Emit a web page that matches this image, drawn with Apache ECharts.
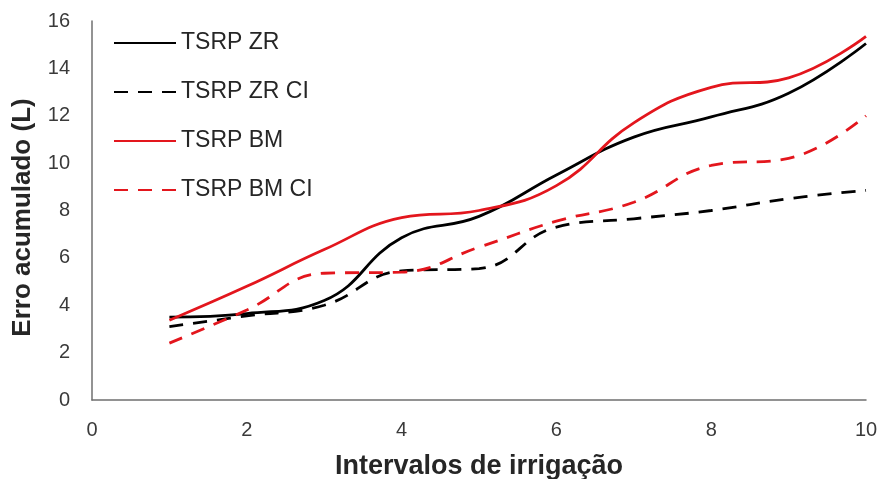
<!DOCTYPE html>
<html><head><meta charset="utf-8">
<script src="https://cdn.jsdelivr.net/npm/echarts@6/dist/echarts.min.js"></script>
<style>html,body{margin:0;padding:0;background:#fff}#c{width:881px;height:479px}</style>
</head><body><div id="c"></div>
<script>
var xValues = [1, 2, 3, 4, 5, 6, 7, 8, 9, 10];
var zr   = [3.5, 3.65, 4.2, 6.85, 7.75, 9.5, 11.1, 11.95, 12.95, 15.05];
var zrCI = [3.1, 3.55, 4.0, 5.45, 5.55, 7.3, 7.65, 8.0, 8.5, 8.85];
var bm   = [3.37, 4.8, 6.35, 7.7, 8.0, 9.05, 11.7, 13.2, 13.6, 15.35];
var bmCI = [2.4, 3.8, 5.35, 5.4, 6.45, 7.55, 8.35, 9.9, 10.2, 12.0];
var seriesNames = ['TSRP ZR', 'TSRP ZR CI', 'TSRP BM', 'TSRP BM CI'];
var xTitle = 'Intervalos de irrigação';
var yTitle = 'Erro acumulado (L)';

function pairs(arr){ return xValues.map(function(x,i){ return [x, arr[i]]; }); }
var BLACK = '#000000', RED = '#e3161d';
function mk(name, data, color, dashed){
  return {name:name, type:'line', data:pairs(data), smooth:0.45, symbol:'none',
    lineStyle:{color:color, width:2.8, type: dashed ? [14,10] : 'solid'},
    itemStyle:{color:color}};
}
var chart = echarts.init(document.getElementById('c'), null, {renderer:'canvas'});
var font = '"Liberation Sans", Arial, sans-serif';
chart.setOption({
  animation:false,
  backgroundColor:'#fff',
  grid:{left:92, right:15, top:21, bottom:79, containLabel:false, outerBoundsMode:'none'},
  legend:{orient:'vertical', left:113, top:31, padding:0, itemWidth:62, itemHeight:14, itemGap:25,
    data:seriesNames,
    itemStyle:{opacity:0},
    textStyle:{fontFamily:font, fontSize:23, lineHeight:24, color:'#262626'}},
  xAxis:{type:'value', min:0, max:10, interval:2,
    name:xTitle, nameLocation:'middle', nameGap:53,
    nameTextStyle:{fontFamily:font, fontSize:27, fontWeight:'bold', color:'#262626'},
    axisLine:{show:true, lineStyle:{color:'#6f6f6f', width:1.5}},
    axisTick:{show:false}, splitLine:{show:false},
    axisLabel:{fontFamily:font, fontSize:20, color:'#3a3a3a', margin:20}},
  yAxis:{type:'value', min:0, max:16, interval:2,
    name:yTitle, nameLocation:'middle', nameGap:56,
    nameTextStyle:{fontFamily:font, fontSize:26, fontWeight:'bold', color:'#262626', padding:[0,14,0,0]},
    axisLine:{show:true, lineStyle:{color:'#6f6f6f', width:1.5}},
    axisTick:{show:false}, splitLine:{show:false},
    axisLabel:{fontFamily:font, fontSize:20, color:'#3a3a3a', margin:22}},
  series:[
    mk(seriesNames[0], zr, BLACK, false),
    mk(seriesNames[1], zrCI, BLACK, true),
    mk(seriesNames[2], bm, RED, false),
    mk(seriesNames[3], bmCI, RED, true)
  ]
});
</script></body></html>
